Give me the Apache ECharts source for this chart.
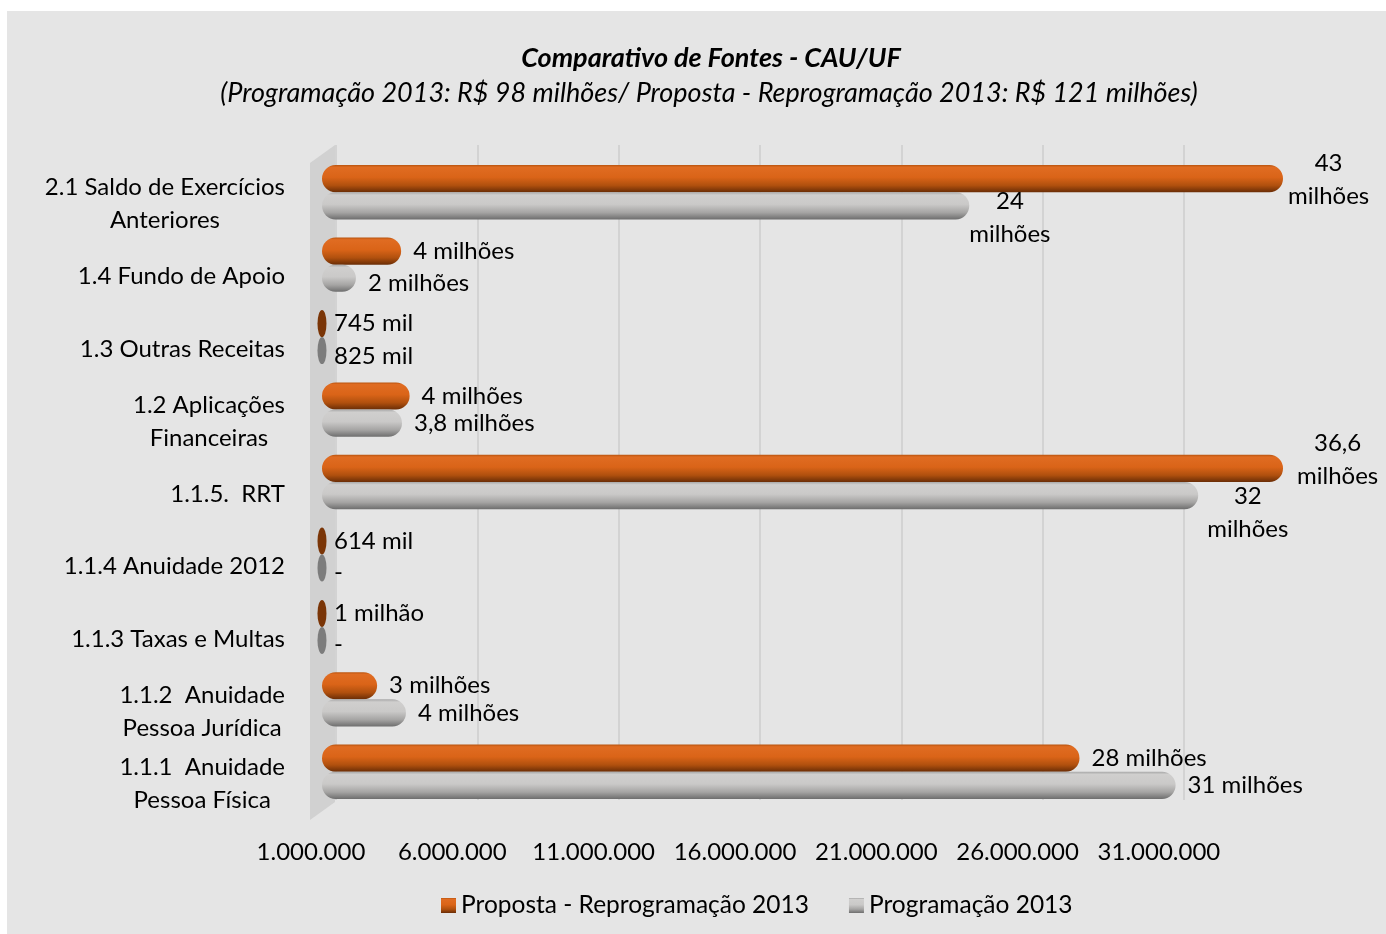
<!DOCTYPE html>
<html>
<head>
<meta charset="utf-8">
<script src="https://cdn.jsdelivr.net/npm/echarts@6.0.0/dist/echarts.min.js"></script>
<style>
  html, body { margin: 0; padding: 0; background: #fff; }
  #chart { width: 1386px; height: 934px; }
</style>
</head>
<body>
<div id="chart"></div>
<script>
// categories listed bottom -> top, like the source spreadsheet
var categories = [
  '1.1.1  Anuidade\nPessoa Física',
  '1.1.2  Anuidade\nPessoa Jurídica',
  '1.1.3 Taxas e Multas',
  '1.1.4 Anuidade 2012',
  '1.1.5.  RRT',
  '1.2 Aplicações\nFinanceiras',
  '1.3 Outras Receitas',
  '1.4 Fundo de Apoio',
  '2.1 Saldo de Exercícios\nAnteriores'
]
var proposta = [27800000, 2950000, 1000000, 614000, 36600000, 4100000, 745000, 3800000, 43000000]
var programacao = [31200000, 3970000, 0, 0, 32000000, 3830000, 825000, 2200000, 23900000]
var propostaLabels = ['28 milhões', '3 milhões', '1 milhão', '614 mil', '36,6\nmilhões', '4 milhões', '745 mil', '4 milhões', '43\nmilhões']
var programacaoLabels = ['31 milhões', '4 milhões', '-', '-', '32\nmilhões', '3,8 milhões', '825 mil', '2 milhões', '24\nmilhões']
var xTicks = { min: 1000000, max: 35000000, interval: 5000000 }

var FONT = 'Lato'
var chart = echarts.init(document.getElementById('chart'))

function richLines(s) {
  return s.split('\n').map(function (l) { return '{c|' + l + '}' }).join('\n')
}
function thousands(v) {
  return String(v).replace(/\B(?=(\d{3})+(?!\d))/g, '.')
}

var orangeGrad = new echarts.graphic.LinearGradient(0, 0, 0, 1, [
  { offset: 0, color: '#b9540f' },
  { offset: 0.08, color: '#e06c22' },
  { offset: 0.45, color: '#da6418' },
  { offset: 0.75, color: '#b0500e' },
  { offset: 1, color: '#6a2d06' }
])
var greyGrad = new echarts.graphic.LinearGradient(0, 0, 0, 1, [
  { offset: 0, color: '#a8a8a8' },
  { offset: 0.1, color: '#d0cfce' },
  { offset: 0.45, color: '#cac9c8' },
  { offset: 0.75, color: '#a5a4a3' },
  { offset: 1, color: '#6e6e6e' }
])

// per-item label tweaks (position of the wrapped labels)
var propostaLabelOpt = {
  4: { distance: 14, offset: [0, -9] },
  8: { distance: 5, offset: [0, 1] }
}
var programacaoLabelOpt = {
  4: { distance: 9, offset: [0, 17] },
  8: { distance: 0, offset: [0, 12] },
  7: { offset: [0, 5] },
  6: { offset: [0, 6] },
  2: { offset: [0, 4] },
  3: { offset: [0, 4] }
}

function buildData(values, labelOpt) {
  return values.map(function (v, i) {
    var item = { value: Math.max(v, xTicks.min) }
    if (labelOpt[i]) item.label = labelOpt[i]
    return item
  })
}
// bars that do not reach past the axis start only show their end cap
function capData(values) {
  var out = []
  values.forEach(function (v, i) {
    if (v <= xTicks.min) out.push([xTicks.min, i])
  })
  return out
}

var labelRich = {
  c: { align: 'center', fontFamily: FONT, fontSize: 24, lineHeight: 33, color: '#000' }
}

chart.setOption({
  backgroundColor: '#e5e5e5',
  animation: false,
  title: [{
    text: 'Comparativo de Fontes - CAU/UF',
    left: 711,
    top: 43,
    padding: 0,
    textAlign: 'center',
    textStyle: { fontFamily: FONT, fontSize: 27, fontWeight: 'bold', fontStyle: 'italic', color: '#000', lineHeight: 30 }
  }, {
    text: '(Programação 2013: R$ 98 milhões/ Proposta - Reprogramação 2013: R$ 121 milhões)',
    left: 709,
    top: 78,
    padding: 0,
    textAlign: 'center',
    textStyle: { fontFamily: FONT, fontSize: 27, fontWeight: 'normal', fontStyle: 'italic', color: '#000', lineHeight: 30 }
  }],
  legend: {
    left: 436,
    top: 888,
    itemWidth: 15,
    itemHeight: 15,
    itemGap: 40,
    icon: 'rect',
    textStyle: { fontFamily: FONT, fontSize: 24.5, color: '#000' },
    data: ['Proposta - Reprogramação 2013', 'Programação 2013']
  },
  graphic: [
    { type: 'rect', shape: { x: 0, y: 0, width: 1386, height: 11 }, style: { fill: '#fff' }, z: 10 },
    { type: 'rect', shape: { x: 0, y: 0, width: 7, height: 934 }, style: { fill: '#fff' }, z: 10 },
    // side wall of the 3D plot
    { type: 'polygon', shape: { points: [[310, 163], [335, 145], [335, 802], [310, 820]] }, style: { fill: '#d1d1d1' }, z: 1 }
  ],
  grid: [
    { left: 322, right: 103, top: 156, bottom: 126 },
    { left: 336, width: 848, top: 145, bottom: 134 }
  ],
  xAxis: [{
    type: 'value',
    gridIndex: 0,
    min: xTicks.min,
    max: xTicks.max,
    interval: xTicks.interval,
    axisLine: { show: false },
    axisTick: { show: false },
    splitLine: { show: false },
    axisLabel: {
      showMaxLabel: false,
      margin: 32,
      padding: [0, 22, 0, 0],
      fontFamily: FONT,
      fontSize: 24,
      color: '#000',
      formatter: thousands
    }
  }, {
    type: 'value',
    gridIndex: 1,
    min: xTicks.min,
    max: 31000000,
    interval: xTicks.interval,
    axisLine: { show: false },
    axisTick: { show: false },
    axisLabel: { show: false },
    splitLine: { show: true, lineStyle: { color: '#d3d3d3', width: 2 } }
  }],
  yAxis: [{
    type: 'category',
    gridIndex: 0,
    data: categories,
    axisLine: { show: false },
    axisTick: { show: false },
    axisLabel: {
      margin: 37,
      padding: [24, 0, 0, 0],
      formatter: richLines,
      rich: labelRich
    }
  }, {
    type: 'value',
    gridIndex: 1,
    show: false
  }],
  series: [{
    name: 'Proposta - Reprogramação 2013',
    type: 'bar',
    barGap: '0%',
    barCategoryGap: '25%',
    itemStyle: { color: orangeGrad, borderRadius: 14 },
    label: {
      show: true,
      position: 'right',
      distance: 12,
      formatter: function (p) { return richLines(propostaLabels[p.dataIndex]) },
      rich: labelRich
    },
    data: buildData(proposta, propostaLabelOpt)
  }, {
    name: 'Programação 2013',
    type: 'bar',
    barGap: '0%',
    barCategoryGap: '25%',
    itemStyle: { color: greyGrad, borderRadius: 14 },
    label: {
      show: true,
      position: 'right',
      distance: 12,
      formatter: function (p) { return richLines(programacaoLabels[p.dataIndex]) },
      rich: labelRich
    },
    data: buildData(programacao, programacaoLabelOpt)
  }, {
    name: 'capProposta',
    type: 'scatter',
    symbol: 'circle',
    symbolSize: [9, 27],
    symbolOffset: [0, -13.5],
    itemStyle: { color: '#7a3507', opacity: 1 },
    z: 3,
    data: capData(proposta)
  }, {
    name: 'capProgramacao',
    type: 'scatter',
    symbol: 'circle',
    symbolSize: [9, 27],
    symbolOffset: [0, 13.5],
    itemStyle: { color: '#7c7c7c', opacity: 1 },
    z: 3,
    data: capData(programacao)
  }]
})
</script>
</body>
</html>
